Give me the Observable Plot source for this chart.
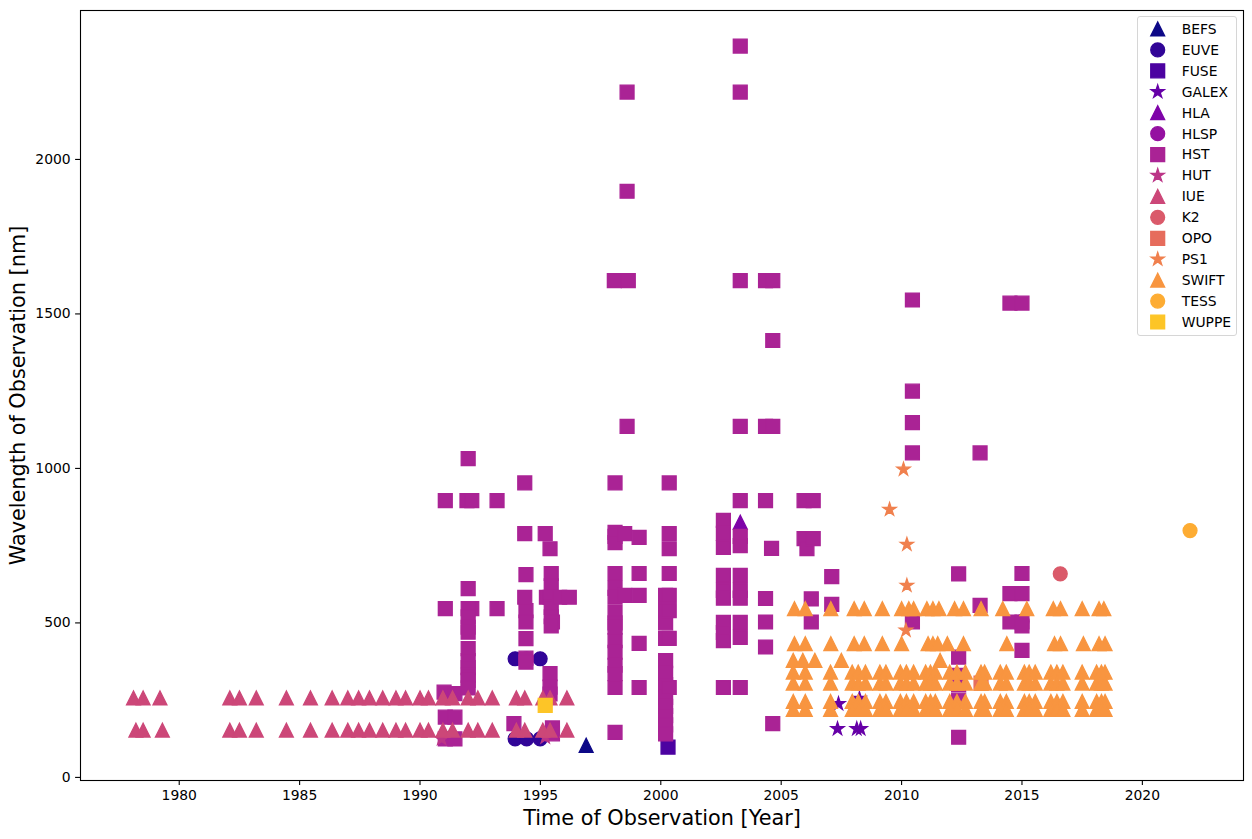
<!DOCTYPE html>
<html><head><meta charset="utf-8">
<script src="https://cdn.jsdelivr.net/npm/d3@7"></script>
<script src="https://cdn.jsdelivr.net/npm/@observablehq/plot@0.6"></script>
<style>
body{margin:0;background:#fff;font-family:"DejaVu Sans",sans-serif;}
#wrap{position:relative;width:1252px;height:839px;}
#legend{position:absolute;left:1137px;top:16px;width:98px;height:318px;border:1px solid #d6d6d6;border-radius:3px;background:rgba(255,255,255,0.85);}
</style></head><body><div id="wrap"></div>
<script>
// ---- data ----
const names = ["BEFS","EUVE","FUSE","GALEX","HLA","HLSP","HST","HUT","IUE","K2","OPO","PS1","SWIFT","TESS","WUPPE"];
const xTicks = [1980, 1985, 1990, 1995, 2000, 2005, 2010, 2015, 2020];
const yTicks = [0, 500, 1000, 1500, 2000];

const befs = [[1996.9,104]];
const euve = [[1993.95,384],[1994.43,384],[1994.99,384],[1993.95,125],[1994.43,125],[1994.99,125]];
const fuse = [[2000.3,98]];
const galex = [[2007.34,157],[2008.14,157],[2008.3,157],[2007.38,238],[2008.25,255]];
const hla = [[2003.3,826]];
const hlsp = [[2015.0,505]];
const hst = [
 [1991.0,276],[1991.05,896],[1991.05,546],[1991.05,195],[1991.05,125],
 [1991.45,271],[1991.45,195],[1991.45,125],
 [1991.95,896],[1992.15,896],[1992.15,546],
 [1992.0,1032],[1992.0,611],[1992.0,546],[1992.0,520],[1992.0,486],[1992.0,470],[1992.0,417],
 [1992.0,378],[1992.0,355],[1992.0,330],[1992.0,314],[1992.0,290],
 [1993.2,896],[1993.2,546],[1993.9,174],
 [1994.35,953],[1994.35,789],[1994.4,656],[1994.35,583],[1994.4,540],[1994.4,503],[1994.4,449],[1994.4,386],[1994.4,373],
 [1995.2,789],[1995.25,583],
 [1995.4,740],[1995.45,660],[1995.45,620],[1995.4,583],[1995.45,550],[1995.45,520],[1995.5,503],[1995.45,490],
 [1995.4,336],[1995.4,292],[1995.4,270],[1995.5,160],[1995.5,141],
 [1995.8,583],[1996.2,583],
 [1998.07,1608],[1998.1,953],[1998.1,793],[1998.1,780],[1998.1,760],[1998.1,660],[1998.1,612],[1998.1,583],
 [1998.1,534],[1998.1,500],[1998.1,486],[1998.1,443],[1998.1,405],[1998.1,363],[1998.1,336],[1998.1,291],[1998.1,146],
 [1998.6,2218],[1998.6,1897],[1998.65,1608],[1998.6,1136],[1998.5,789],[1998.5,589],
 [1999.1,777],[1999.1,660],[1999.1,589],[1999.1,434],[1999.1,291],
 [2000.2,589],[2000.2,540],[2000.2,500],[2000.2,450],[2000.2,378],[2000.2,337],[2000.2,300],
 [2000.2,259],[2000.2,230],[2000.2,200],[2000.2,170],[2000.2,141],
 [2000.35,953],[2000.35,789],[2000.35,740],[2000.35,660],[2000.35,589],[2000.35,540],[2000.35,450],[2000.35,291],
 [2002.6,832],[2002.6,790],[2002.6,744],[2002.6,654],[2002.6,605],[2002.6,580],[2002.6,502],[2002.6,469],[2002.6,443],[2002.6,291],
 [2003.3,2367],[2003.3,2218],[2003.3,1608],[2003.3,1136],[2003.3,896],[2003.3,780],[2003.3,750],
 [2003.3,654],[2003.3,605],[2003.3,580],[2003.3,502],[2003.3,453],[2003.3,291],
 [2004.35,1608],[2004.35,1136],[2004.35,896],[2004.35,579],[2004.35,503],[2004.35,422],
 [2004.65,1608],[2004.65,1414],[2004.65,1136],[2004.6,741],[2004.65,174],
 [2005.95,896],[2005.95,773],[2006.07,740],[2006.25,578],[2006.25,503],[2006.33,896],[2006.33,773],
 [2007.1,650],[2007.1,560],
 [2010.45,1545],[2010.45,1250],[2010.45,1148],[2010.45,1050],[2010.45,503],
 [2012.37,659],[2012.37,389],[2012.37,330],[2012.37,300],[2012.37,250],[2012.37,130],
 [2013.26,1050],[2013.26,557],
 [2014.5,1535],[2014.5,595],[2014.5,503],
 [2015.0,1535],[2015.0,660],[2015.0,595],[2015.0,503],[2015.0,490],[2015.0,411]
];
const hut = [[1990.9,125],[1995.2,130]];
const iueUpperYears = [1978.1,1978.5,1979.2,1982.1,1982.5,1983.2,1984.45,1985.45,1986.35,1987.0,1987.45,1987.9,1988.45,1989.0,1989.4,
 1990.0,1990.35,1990.95,1991.35,1992.0,1992.4,1993.0,1994.0,1994.35,1995.1,1995.4,1996.1];
const iueLowerYears = [1978.2,1978.5,1979.3,1982.1,1982.5,1983.2,1984.45,1985.45,1986.35,1987.0,1987.45,1987.9,1988.45,1989.0,1989.4,
 1990.0,1990.35,1990.95,1991.35,1992.0,1992.4,1993.0,1994.0,1994.35,1995.1,1995.4,1996.1];
const iueUpperWl = 257, iueLowerWl = 153;
const k2 = [[2016.59,659]];
const opo = [[2013.3,305]];
const ps1 = [[2010.08,997],[2009.5,867],[2010.22,754],[2010.22,621],[2010.18,476]];
const swift546 = [2005.55,2006.0,2007.06,2008.03,2008.45,2009.2,2010.0,2010.3,2010.5,2011.05,2011.3,2011.55,2012.2,2012.57,
 2013.3,2014.2,2015.2,2016.3,2016.6,2017.5,2018.2,2018.4];
const swift433 = [2005.55,2006.0,2007.06,2008.03,2008.45,2009.2,2010.0,2011.1,2011.3,2011.5,2011.9,2012.57,2014.37,
 2016.35,2016.6,2017.55,2018.2,2018.45];
const swift379 = [2005.5,2005.9,2006.4,2007.5,2011.6];
const swiftDense = [2005.5,2006.0,2007.05,2007.95,2008.2,2008.5,2009.1,2009.35,2009.95,2010.2,2010.5,2011.0,2011.2,2011.4,
 2012.0,2012.3,2012.65,2013.3,2013.45,2014.1,2014.35,2015.1,2015.3,2015.55,2016.2,2016.45,2016.7,2017.5,2018.1,2018.3,2018.45];
const swiftDenseWl = [341, 305, 246, 220];
const tess = [[2021.98,799]];
const wuppe = [[1995.2,233]];

// ---- build table ----
const pairs = (arr, inst) => arr.map(([year, wl]) => ({inst, year, wl}));
const row = (years, wl, inst) => years.map(year => ({inst, year, wl}));
const swiftPts = [
  ...row(swift546, 546, "SWIFT"), ...row(swift433, 433, "SWIFT"), ...row(swift379, 379, "SWIFT"),
  ...swiftDenseWl.flatMap(w => row(swiftDense, w, "SWIFT"))
];
const points = [
  ...pairs(befs,"BEFS"), ...pairs(euve,"EUVE"), ...pairs(fuse,"FUSE"), ...pairs(galex,"GALEX"),
  ...pairs(hla,"HLA"), ...pairs(hlsp,"HLSP"), ...pairs(hst,"HST"), ...pairs(hut,"HUT"),
  ...row(iueUpperYears, iueUpperWl, "IUE"), ...row(iueLowerYears, iueLowerWl, "IUE"),
  ...pairs(k2,"K2"), ...pairs(opo,"OPO"), ...pairs(ps1,"PS1"), ...swiftPts,
  ...pairs(tess,"TESS"), ...pairs(wuppe,"WUPPE")
];

// ---- styles ----
const colors = names.map((_, i) => d3.interpolatePlasma(i / 16));
const mk = fn => ({draw(ctx, size) { const h = Math.sqrt(size / Math.PI); fn(ctx, h); }});
const triangle = mk((c, h) => { c.moveTo(0, -h); c.lineTo(-h, h); c.lineTo(h, h); c.closePath(); });
const circle = mk((c, h) => { c.moveTo(h, 0); c.arc(0, 0, h, 0, 2 * Math.PI); c.closePath(); });
const square = mk((c, h) => { c.moveTo(-h, -h); c.lineTo(h, -h); c.lineTo(h, h); c.lineTo(-h, h); c.closePath(); });
const star = mk((c, h) => {
  const ri = h * 0.381966;
  for (let k = 0; k < 10; k++) {
    const a = -Math.PI / 2 + k * Math.PI / 5, rr = k % 2 ? ri : h;
    const px = rr * Math.cos(a), py = rr * Math.sin(a);
    if (k) c.lineTo(px, py); else c.moveTo(px, py);
  }
  c.closePath();
});
const cycle = [triangle, circle, square, star];
const shapes = names.map((_, i) => cycle[i % 4]);
const R = 6.95;
const FONT = "DejaVu Sans";

const chart = Plot.plot({
  width: 1252, height: 839,
  marginLeft: 80, marginRight: 9, marginTop: 10, marginBottom: 59,
  style: {fontFamily: FONT, fontSize: "13.9px", background: "white", color: "black"},
  x: {domain: [1975.9, 2024.2]},
  y: {domain: [-10, 2482]},
  color: {domain: names, range: colors},
  symbol: {domain: names, range: shapes},
  marks: [
    Plot.dot(points, {x: "year", y: "wl", fill: "inst", stroke: "inst", symbol: "inst", r: R, strokeWidth: 1.3}),
    Plot.frame({stroke: "black", strokeWidth: 1.1}),
    Plot.axisX({ticks: xTicks, tickSize: 4.9, tickPadding: 4.9, tickFormat: d => String(d), label: null, fontSize: 13.9, strokeWidth: 1.1}),
    Plot.axisY({ticks: yTicks, tickSize: 4.9, tickPadding: 4.9, tickFormat: d => String(d), label: null, fontSize: 13.9, strokeWidth: 1.1}),
    Plot.text(["Time of Observation [Year]"], {frameAnchor: "bottom", dy: 38, lineAnchor: "middle", textAnchor: "middle", fontSize: 20.8, fill: "black"}),
    Plot.text(["Wavelength of Observation [nm]"], {frameAnchor: "left", dx: -62, rotate: -90, lineAnchor: "middle", textAnchor: "middle", fontSize: 20.8, fill: "black"})
  ]
});
const wrap = document.getElementById("wrap");
wrap.appendChild(chart);

// ---- legend ----
const leg = d3.select(wrap).append("div").attr("id", "legend");
const lsvg = leg.append("svg").attr("width", 98).attr("height", 318).style("display", "block");
names.forEach((n, i) => {
  const g = lsvg.append("g").attr("transform", `translate(19.7, ${12 + i * 20.93})`);
  const p = d3.path();
  shapes[i].draw(p, R * R * Math.PI);
  g.append("path").attr("d", p.toString()).attr("fill", colors[i]).attr("stroke", colors[i]).attr("stroke-width", 1.3);
  g.append("text").attr("x", 24).attr("dy", "0.35em").attr("font-family", FONT).attr("font-size", 13.9).attr("fill", "black").text(n);
});
</script>
</body></html>
